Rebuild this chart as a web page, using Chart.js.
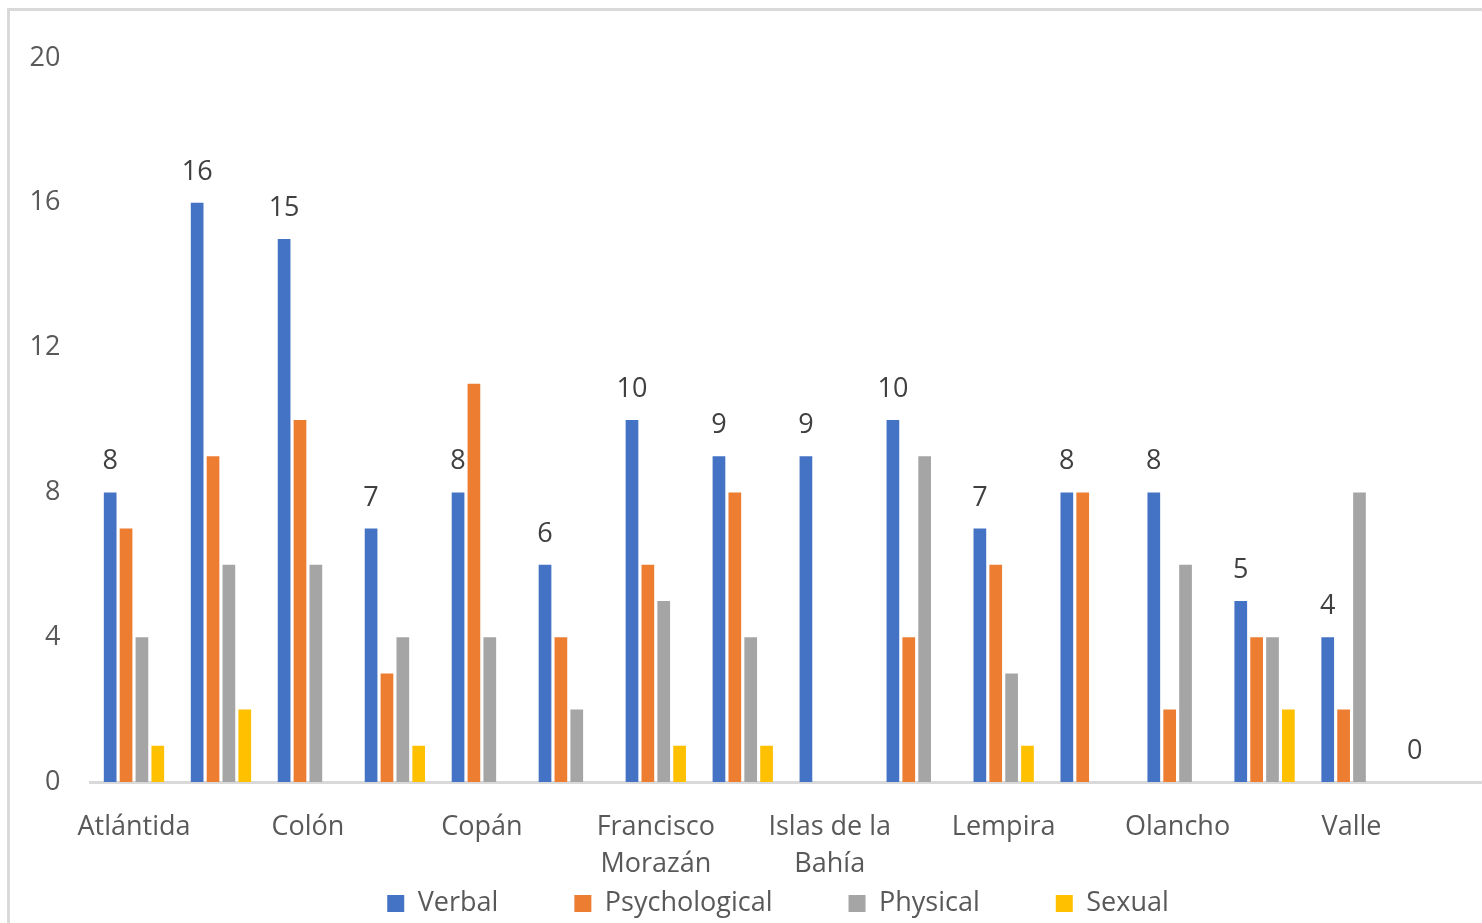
<!DOCTYPE html>
<html>
<head>
<meta charset="utf-8">
<script src="https://cdn.jsdelivr.net/npm/chart.js@4.4.1/dist/chart.umd.min.js"></script>
<style>
  html, body { margin: 0; padding: 0; background: #fff; overflow: hidden; }
  #marco { position: absolute; left: 7px; top: 8px; width: 1600px; height: 1000px;
           border-top: 3px solid #d9d9d9; border-left: 3px solid #d9d9d9; }
  #caja { position: absolute; left: 0; top: 0; width: 1482px; height: 927px; }
</style>
</head>
<body>
<div id="marco"></div>
<div id="caja"><canvas id="grafico" width="1482" height="927"></canvas></div>
<script>
// departamentos (solo se ven los pares en el eje)
const departamentos = [
    "Atlántida", "Choluteca", "Colón", "Comayagua", "Copán", "Cortés",
    ["Francisco", "Morazán"], "Intibucá", ["Islas de la", "Bahía"], "La Paz",
    "Lempira", "Ocotepeque", "Olancho", "Santa Bárbara", "Valle", "Yoro"
];
const verbal        = [8, 16, 15, 7, 8, 6, 10, 9, 9, 10, 7, 8, 8, 5, 4, 0];
const psicologica   = [7, 9, 10, 3, 11, 4, 6, 8, 0, 4, 6, 8, 2, 4, 2, 0];
const fisica        = [4, 6, 6, 4, 4, 2, 5, 4, 0, 9, 3, 0, 6, 4, 8, 0];
const sexual        = [1, 2, 0, 1, 0, 0, 1, 1, 0, 0, 1, 0, 0, 2, 0, 0];
const marcasY       = [0, 4, 8, 12, 16, 20];

const fuente = "'Open Sans', 'DejaVu Sans', sans-serif";
const gris = '#595959';

// las etiquetas de los ejes se salen de su caja, que no las recorte
const sinRecorte = s => { s._computeLabelArea = () => undefined; };

// etiquetas de valor solo sobre la serie Verbal
const etiquetasVerbal = {
    id: 'etiquetasVerbal',
    afterDatasetsDraw(chart) {
        const ctx = chart.ctx;
        const meta = chart.getDatasetMeta(0);
        ctx.save();
        ctx.font = '27px ' + fuente;
        ctx.fillStyle = '#404040';
        ctx.textAlign = 'center';
        ctx.textBaseline = 'alphabetic';
        meta.data.forEach((barra, i) => {
            ctx.fillText(String(verbal[i]), barra.x, barra.y - 23);
        });
        ctx.restore();
    }
};

new Chart(document.getElementById("grafico"), {
    type: "bar",
    data: {
        labels: departamentos,
        datasets: [
            { label: "Verbal", data: verbal, backgroundColor: "#4472c4" },
            { label: "Psychological", data: psicologica, backgroundColor: "#ed7d31" },
            { label: "Physical", data: fisica, backgroundColor: "#a5a5a5" },
            { label: "Sexual", data: sexual, backgroundColor: "#ffc000" }
        ]
    },
    options: {
        responsive: false,
        animation: false,
        datasets: {
            bar: { categoryPercentage: 0.73, barPercentage: 0.8 }
        },
        layout: { padding: { top: 58, left: 74, right: 0, bottom: 0 } },
        plugins: {
            legend: {
                position: 'bottom',
                labels: {
                    boxWidth: 17,
                    boxHeight: 17,
                    padding: 76,
                    color: gris,
                    font: { family: fuente, size: 27 }
                }
            },
            tooltip: { enabled: false }
        },
        scales: {
            x: {
                grid: { display: false, drawTicks: false },
                border: { display: true, color: '#d9d9d9', width: 3 },
                ticks: {
                    autoSkip: false,
                    maxRotation: 0,
                    minRotation: 0,
                    padding: 26,
                    color: gris,
                    font: { family: fuente, size: 27, lineHeight: 1.4 },
                    callback: function (v, i) {
                        return i % 2 === 0 ? this.getLabelForValue(v) : '';
                    }
                },
                afterFit: s => { s.height = 32; sinRecorte(s); }
            },
            y: {
                min: 0,
                max: 20,
                afterBuildTicks: s => { s.ticks = marcasY.map(v => ({ value: v })); },
                grid: { display: false, drawTicks: false },
                border: { display: false },
                ticks: {
                    padding: 30,
                    color: gris,
                    font: { family: fuente, size: 27 }
                },
                afterFit: s => { s.width = 16.5; sinRecorte(s); }
            }
        }
    },
    plugins: [etiquetasVerbal]
});
</script>
</body>
</html>
